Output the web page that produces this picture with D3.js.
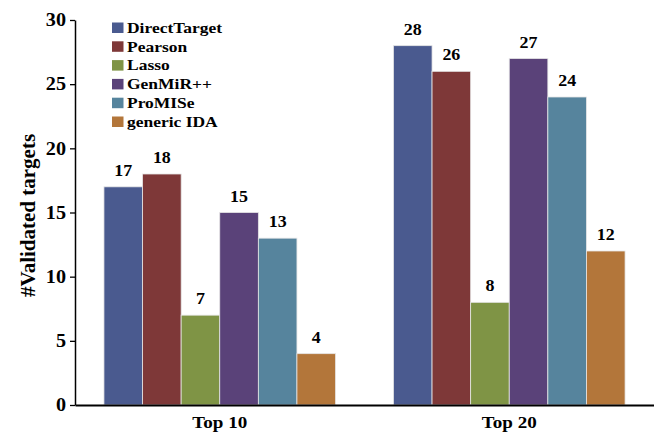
<!DOCTYPE html>
<html><head><meta charset="utf-8">
<script src="https://cdn.jsdelivr.net/npm/d3@7"></script>
<style>body{margin:0;background:#fff}svg{display:block}</style>
</head><body>
<script>
const categories = ["Top 10", "Top 20"];
const methods = ["DirectTarget", "Pearson", "Lasso", "GenMiR++", "ProMISe", "generic IDA"];
const top10 = [17, 18, 7, 15, 13, 4];
const top20 = [28, 26, 8, 27, 24, 12];
const colors = ["#4A5A8F", "#7E3838", "#7F9445", "#5A4279", "#56849D", "#B3763A"];
const yTicks = [0, 5, 10, 15, 20, 25, 30];
const yLabel = "#Validated targets";

const FONT = "Liberation Serif, Times New Roman, serif";
const W = 654, H = 433;
const m = {left: 75, right: 0, top: 20, bottom: 28};
const svg = d3.select("body").append("svg").attr("width", W).attr("height", H);
const STRETCH = 1.12;
function txt(sel, size) {
  sel.attr("font-family", FONT).attr("font-weight", "bold").attr("fill", "#000").attr("font-size", size);
}
function stretch(sel) {
  sel.each(function() {
    const len = this.getComputedTextLength();
    d3.select(this).attr("textLength", len * STRETCH).attr("lengthAdjust", "spacingAndGlyphs");
  });
}

const x0 = d3.scaleBand().domain(categories).range([m.left, W - m.right]).paddingInner(0.2).paddingOuter(0.1);
const x1 = d3.scaleBand().domain(methods).range([0, x0.bandwidth()]);
const y = d3.scaleLinear().domain([0, 30]).range([H - m.bottom, m.top]);
const color = d3.scaleOrdinal().domain(methods).range(colors);

const data = categories.map((c, i) => ({cat: c, vals: (i === 0 ? top10 : top20).map((v, j) => ({m: methods[j], v}))}));

const g = svg.selectAll("g.grp").data(data).join("g").attr("class", "grp")
  .attr("transform", d => `translate(${x0(d.cat)},0)`);
g.selectAll("rect").data(d => d.vals).join("rect")
  .attr("x", d => x1(d.m)).attr("width", x1.bandwidth())
  .attr("y", d => y(d.v)).attr("height", d => y(0) - y(d.v))
  .attr("fill", d => color(d.m)).attr("stroke", "#e6e6e6").attr("stroke-width", 0.8);
g.selectAll("text.val").data(d => d.vals).join("text").attr("class", "val")
  .attr("x", d => x1(d.m) + x1.bandwidth() / 2).attr("y", d => y(d.v) - 11)
  .attr("text-anchor", "middle").call(txt, 16).text(d => d.v)
  .call(stretch);

// y axis
const ya = svg.append("g").attr("transform", `translate(${m.left},0)`)
  .call(d3.axisLeft(y).tickValues(yTicks).tickSize(5).tickPadding(4).tickSizeOuter(0));
ya.select(".domain").attr("stroke", "#000").attr("stroke-width", 1.5);
ya.selectAll(".tick line").attr("stroke", "#000").attr("stroke-width", 1.3);
ya.selectAll(".tick text").call(txt, 18).call(stretch);

// x axis
const xa = svg.append("g").attr("transform", `translate(0,${y(0)})`)
  .call(d3.axisBottom(x0).tickSize(0).tickPadding(8).tickSizeOuter(0));
xa.select(".domain").attr("stroke", "#000").attr("stroke-width", 2.2);
xa.selectAll(".tick text").call(txt, 17).attr("dy", "0.9em").call(stretch);

// y label
svg.append("text").attr("transform", `translate(35,${(y(0) + y(30)) / 2 + 3}) rotate(-90)`)
  .attr("text-anchor", "middle").call(txt, 21).text(yLabel);

// legend
const lg = svg.append("g").selectAll("g").data(methods).join("g")
  .attr("transform", (d, i) => `translate(112,${22.5 + i * 18.8})`);
lg.append("rect").attr("width", 11.5).attr("height", 10.5).attr("fill", d => color(d));
lg.append("text").attr("x", 15).attr("y", 10.3).call(txt, 15.6).text(d => d).call(stretch);
</script>
</body></html>
